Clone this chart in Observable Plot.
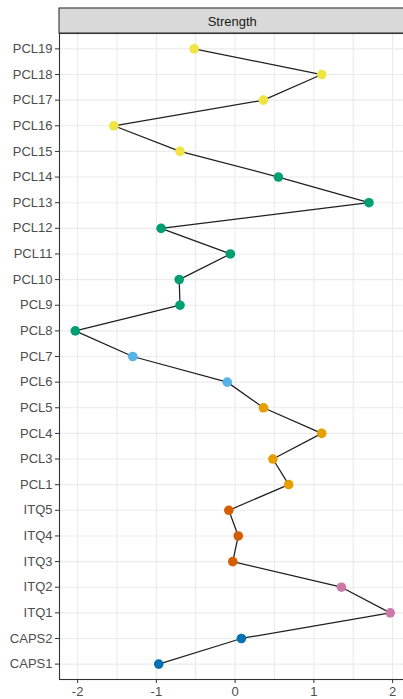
<!DOCTYPE html>
<html><head><meta charset="utf-8">
<script src="https://cdn.jsdelivr.net/npm/d3@7"></script>
<script src="https://cdn.jsdelivr.net/npm/@observablehq/plot@0.6"></script>
<style>html,body{margin:0;padding:0;overflow:hidden;background:#fff} #chart{width:403px;height:699px;overflow:hidden} svg{max-width:none !important;}</style>
</head><body><div id="chart"></div>
<script>
const nodes = ["PCL19","PCL18","PCL17","PCL16","PCL15","PCL14","PCL13","PCL12","PCL11","PCL10","PCL9","PCL8","PCL7","PCL6","PCL5","PCL4","PCL3","PCL1","ITQ5","ITQ4","ITQ3","ITQ2","ITQ1","CAPS2","CAPS1"];
const strength = [-0.52,1.10,0.36,-1.54,-0.70,0.55,1.70,-0.94,-0.06,-0.71,-0.70,-2.03,-1.30,-0.10,0.36,1.10,0.48,0.68,-0.08,0.04,-0.03,1.35,1.97,0.08,-0.97];
const groups = ["G1","G1","G1","G1","G1","G2","G2","G2","G2","G2","G2","G2","G3","G3","G4","G4","G4","G4","G5","G5","G5","G6","G6","G7","G7"];
const groupNames = ["G1","G2","G3","G4","G5","G6","G7"];
const groupColors = ["#F0E442","#009E73","#56B4E9","#E69F00","#D55E00","#CC79A7","#0072B2"];
const xTicks = [-2,-1,0,1,2];
const xGrid = [-2,-1.5,-1,-0.5,0,0.5,1,1.5,2];
const stripLabel = "Strength";

const data = nodes.map((n,i)=>({node:n, value:strength[i], group:groups[i]}));

const plot = Plot.plot({
  width: 408, height: 699,
  marginTop: 33, marginBottom: 20, marginLeft: 59, marginRight: 2.5,
  style: {fontFamily: "'Liberation Sans', Arial, sans-serif", fontSize: "13px", color: "#4d4d4d", background: "#fff", overflow: "visible", maxWidth: "none"},
  x: {domain: [-2.23, 2.17], label: null},
  y: {type: "point", domain: nodes, padding: 0.6, round: false, label: null},
  color: {domain: groupNames, range: groupColors},
  marks: [
    Plot.gridX(xGrid, {stroke: "#ebebeb", strokeOpacity: 1, strokeWidth: 1.1}),
    Plot.gridY(nodes, {stroke: "#ebebeb", strokeOpacity: 1, strokeWidth: 1.1}),
    Plot.frame({stroke: "#333", strokeWidth: 1.1}),
    Plot.line(data, {x: "value", y: "node", stroke: "#1f1f1f", strokeWidth: 1.25}),
    Plot.dot(data, {x: "value", y: "node", fill: "group", r: 4.8}),
    Plot.axisX({ticks: xTicks, tickSize: 4, tickPadding: 3, stroke: "#333", tickFormat: d => String(d), label: null}),
    Plot.axisY({tickSize: 4, tickPadding: 3, stroke: "#333", label: null})
  ]
});

const xs = plot.scale("x");
const svg = d3.select(plot);
const x0 = xs.range[0], x1 = xs.range[1];
svg.append("rect").attr("x", x0).attr("y", 8).attr("width", x1 - x0).attr("height", 25)
  .attr("fill", "#d9d9d9").attr("stroke", "#333").attr("stroke-width", 1.1);
svg.append("text").attr("x", (x0 + x1) / 2).attr("y", 21).attr("text-anchor", "middle")
  .attr("dominant-baseline", "central").attr("font-size", 13).attr("fill", "#1a1a1a").text(stripLabel);

document.getElementById("chart").appendChild(plot);
</script>
</body></html>
